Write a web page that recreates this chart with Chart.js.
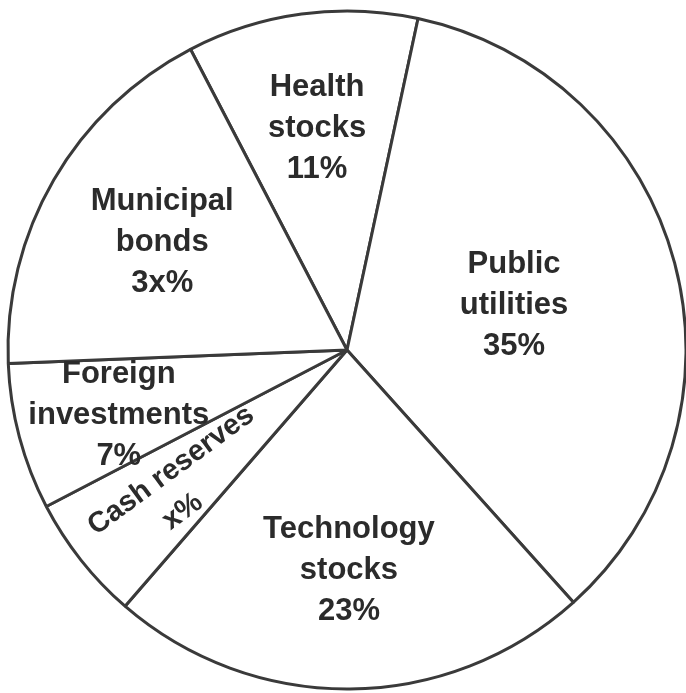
<!DOCTYPE html>
<html>
<head>
<meta charset="utf-8">
<script src="https://cdn.jsdelivr.net/npm/chart.js@4/dist/chart.umd.min.js"></script>
<style>
  html, body { margin: 0; padding: 0; background: #fff; }
  canvas { display: block; }
</style>
</head>
<body>
<canvas id="myChart" width="686" height="693"></canvas>
<script>
// portfolio split, clockwise from the health slice
var categories = ['Health stocks', 'Public utilities', 'Technology stocks', 'Cash reserves', 'Foreign investments', 'Municipal bonds'];
var nameLines = [['Health', 'stocks'], ['Public', 'utilities'], ['Technology', 'stocks'], ['Cash reserves'], ['Foreign', 'investments'], ['Municipal', 'bonds']];
var percentLabels = ['11%', '35%', '23%', 'x%', '7%', '3x%'];
// x = 6 so the six parts add up to 100
var shares = [11, 35, 23, 6, 7, 18];

// how far out along each slice the text sits (fraction of radius)
var labelRadius = [0.66, 0.51, 0.65, 0.63, 0.70, 0.63];
// nudge of the text away from the slice middle, degrees
var labelShift = [0, 0, 0, -1.5, -1, 0];
// cash reserves label runs along its slice, percent pulled toward the rim
var alongSlice = [false, false, false, true, false, false];
var percentSlide = [0, 0, 0, -15, 0, 0];

var ctx = document.getElementById('myChart').getContext('2d');
var deg = Math.PI / 180;

var sliceLabels = {
    id: 'sliceLabels',
    afterDatasetsDraw: function (chart) {
        var c = chart.ctx;
        var meta = chart.getDatasetMeta(0);
        c.save();
        c.fillStyle = '#2b2b2b';
        c.textAlign = 'center';
        c.textBaseline = 'middle';
        meta.data.forEach(function (arc, i) {
            var p = arc.getProps(['x', 'y', 'startAngle', 'endAngle', 'outerRadius'], true);
            var mid = (p.startAngle + p.endAngle) / 2;
            var at = mid + labelShift[i] * deg;
            var r = p.outerRadius * labelRadius[i];
            var lines = nameLines[i].concat([percentLabels[i]]);
            var lh = alongSlice[i] ? 40 : 41;
            c.font = 'bold ' + (alongSlice[i] ? 29 : 31) + 'px "Liberation Sans", Arial, sans-serif';
            c.save();
            c.translate(p.x + Math.cos(at) * r, p.y + Math.sin(at) * r);
            if (alongSlice[i]) c.rotate(mid + Math.PI + 2 * deg);
            var y0 = -(lines.length - 1) * lh / 2;
            lines.forEach(function (t, k) {
                var dx = k === lines.length - 1 ? percentSlide[i] : 0;
                c.fillText(t, dx, y0 + k * lh);
            });
            c.restore();
        });
        c.restore();
    }
};

var myChart = new Chart(ctx, {
    type: 'pie',
    data: {
        labels: categories,
        datasets: [{
            data: shares,
            backgroundColor: '#ffffff',
            borderColor: '#3a3a3a',
            borderWidth: 3,
            radius: 339
        }]
    },
    options: {
        responsive: false,
        animation: false,
        rotation: -27.5,
        layout: { padding: { left: 8, right: 0, top: 7, bottom: 0 } },
        plugins: {
            legend: { display: false },
            tooltip: { enabled: false }
        }
    },
    plugins: [sliceLabels]
});
</script>
</body>
</html>
